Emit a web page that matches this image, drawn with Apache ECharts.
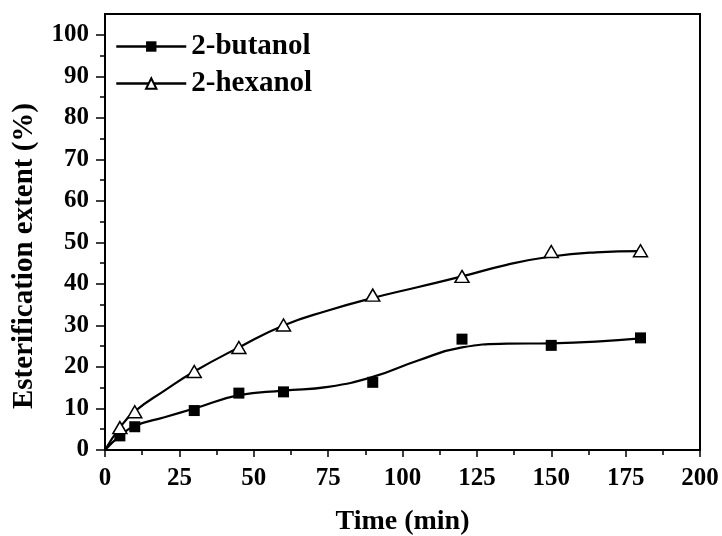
<!DOCTYPE html>
<html>
<head>
<meta charset="utf-8">
<script src="https://cdn.jsdelivr.net/npm/echarts@6/dist/echarts.min.js"></script>
<style>html,body{margin:0;padding:0;background:#fff}#c{width:722px;height:536px}</style>
</head>
<body>
<div id="c"></div>
<script>
// measured points
const timePts = [5, 10, 30, 45, 60, 90, 120, 150, 180];
const butanolPts = [3.4, 5.6, 9.5, 13.7, 14.0, 16.3, 26.7, 25.2, 27.0];
const hexanolPts = [5.4, 9.2, 18.9, 24.7, 30.1, 37.3, 41.8, 47.8, 48.0];
// fitted curves
const timeFit = [0, 5, 10, 20, 30, 45, 60, 75, 90, 105, 120, 135, 150, 165, 180];
const butanolFit = [0, 3.4, 5.8, 7.9, 10.0, 13.2, 14.3, 15.2, 17.6, 21.5, 24.7, 25.6, 25.7, 26.1, 26.9];
const hexanolFit = [0, 5.4, 9.3, 14.3, 18.9, 24.7, 30.0, 33.6, 36.6, 39.2, 41.8, 44.6, 46.6, 47.6, 47.9];
const yMajor = [0, 10, 20, 30, 40, 50, 60, 70, 80, 90, 100];
const yMinor = [5, 15, 25, 35, 45, 55, 65, 75, 85, 95];

const FONT = '"Liberation Serif","Times New Roman",serif';
const zip = (xs, ys) => xs.map((x, i) => [x, ys[i]]);

const chart = echarts.init(document.getElementById('c'), null, {renderer: 'canvas'});
chart.setOption({
  animation: false,
  backgroundColor: '#fff',
  grid: {left: 105, right: 22, top: 14, bottom: 86, containLabel: false, outerBoundsMode: 'none',
         show: true, borderColor: '#000', borderWidth: 2, backgroundColor: 'transparent'},
  legend: {
    orient: 'vertical', left: 110, top: 27,
    itemWidth: 70, itemHeight: 13, itemGap: 8,
    data: ['2-butanol', '2-hexanol'],
    lineStyle: {color: '#000', width: 2.5, opacity: 1},
    textStyle: {fontFamily: FONT, fontWeight: 'bold', fontSize: 29, lineHeight: 29, color: '#000'}
  },
  xAxis: {
    type: 'value', min: 0, max: 200, interval: 25,
    name: 'Time (min)', nameLocation: 'middle', nameGap: 58,
    nameTextStyle: {fontFamily: FONT, fontWeight: 'bold', fontSize: 28, color: '#000'},
    axisLine: {lineStyle: {color: '#000', width: 2}},
    axisTick: {inside: false, length: 7, lineStyle: {color: '#000', width: 1.5}},
    minorTick: {show: true, splitNumber: 2, length: 5, lineStyle: {color: '#000', width: 1.5}},
    splitLine: {show: false},
    axisLabel: {margin: 16, fontFamily: FONT, fontWeight: 'bold', fontSize: 25, color: '#000'}
  },
  yAxis: [{
    type: 'value', min: 0, max: 105,
    name: 'Esterification extent (%)', nameLocation: 'middle', nameGap: 66,
    nameTextStyle: {fontFamily: FONT, fontWeight: 'bold', fontSize: 29, color: '#000', padding: [0, 48, 0, 0]},
    axisLine: {lineStyle: {color: '#000', width: 2}},
    axisTick: {inside: false, length: 9, customValues: yMajor, lineStyle: {color: '#000', width: 1.5}},
    splitLine: {show: false},
    axisLabel: {margin: 16, customValues: yMajor, fontFamily: FONT, fontWeight: 'bold', fontSize: 25, color: '#000'}
  }, {
    type: 'value', min: 0, max: 105, position: 'left',
    axisLine: {show: false},
    axisTick: {inside: false, length: 5, customValues: yMinor, lineStyle: {color: '#000', width: 1.5}},
    axisLabel: {show: false},
    splitLine: {show: false}
  }],
  series: [
    {name: 'fit-butanol', type: 'line', data: zip(timeFit, butanolFit), smooth: 0.5, symbol: 'none',
     lineStyle: {color: '#000', width: 2.2}, z: 2},
    {name: 'fit-hexanol', type: 'line', data: zip(timeFit, hexanolFit), smooth: 0.5, symbol: 'none',
     lineStyle: {color: '#000', width: 2.2}, z: 2},
    {name: '2-butanol', type: 'line', data: zip(timePts, butanolPts), symbol: 'rect', symbolSize: 11,
     showAllSymbol: true, lineStyle: {opacity: 0, color: '#000'}, itemStyle: {color: '#000'}, z: 5},
    {name: '2-hexanol', type: 'line', data: zip(timePts, hexanolPts), symbol: 'triangle', symbolSize: [14, 12],
     showAllSymbol: true, lineStyle: {opacity: 0, color: '#000'},
     itemStyle: {color: '#fff', borderColor: '#000', borderWidth: 1.5}, z: 5}
  ]
});
</script>
</body>
</html>
